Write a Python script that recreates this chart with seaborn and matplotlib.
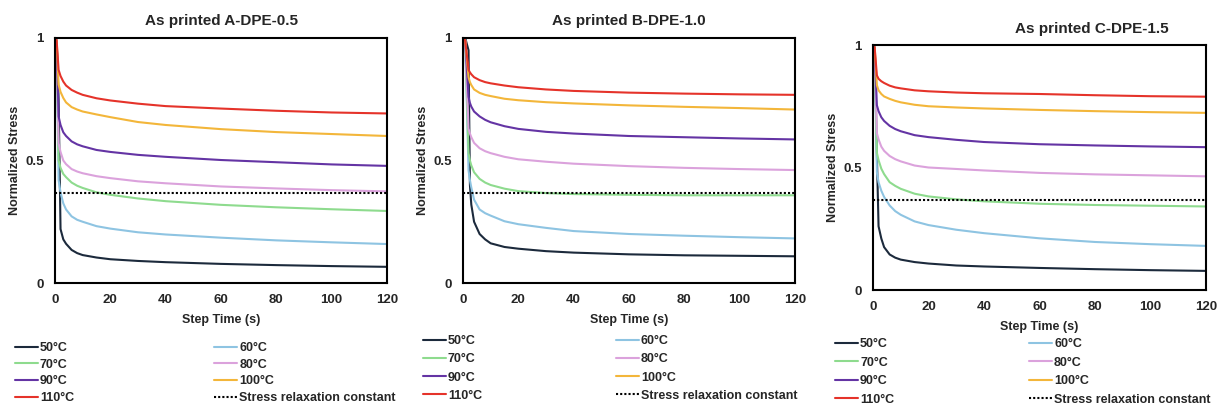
import matplotlib
matplotlib.use("Agg")
import matplotlib.pyplot as plt
import seaborn as sns
import pandas as pd
from matplotlib.lines import Line2D

# ---------------- data ----------------
temps = ["50°C", "60°C", "70°C", "80°C", "90°C", "100°C", "110°C"]
colors = ["#1c2a3c", "#8ec4e2", "#8edb8e", "#dba2dc", "#6434a4", "#f3b63a", "#e5332a"]
relax_const = 0.368
relax_label = "Stress relaxation constant"

titles = ["As printed A-DPE-0.5", "As printed B-DPE-1.0", "As printed C-DPE-1.5"]

# Panel A
time_a = [0, 0.6, 1.3, 2, 3, 4, 6, 8, 10, 15, 20, 30, 40, 60, 80, 100, 120]
a_50 = [1.0, 0.99, 0.75, 0.22, 0.178, 0.16, 0.135, 0.122, 0.114, 0.104, 0.097, 0.090, 0.085, 0.078, 0.073, 0.069, 0.066]
a_60 = [1.0, 0.99, 0.42, 0.37, 0.325, 0.30, 0.272, 0.258, 0.25, 0.232, 0.222, 0.207, 0.198, 0.185, 0.174, 0.166, 0.159]
a_70 = [1.0, 0.99, 0.50, 0.47, 0.445, 0.432, 0.41, 0.397, 0.388, 0.370, 0.360, 0.345, 0.334, 0.319, 0.309, 0.301, 0.294]
a_80 = [1.0, 0.99, 0.57, 0.535, 0.50, 0.485, 0.465, 0.455, 0.448, 0.436, 0.428, 0.415, 0.407, 0.394, 0.386, 0.379, 0.374]
a_90 = [1.0, 0.99, 0.68, 0.645, 0.615, 0.60, 0.578, 0.566, 0.558, 0.543, 0.535, 0.523, 0.515, 0.502, 0.493, 0.484, 0.478]
a_100 = [1.0, 0.99, 0.81, 0.78, 0.755, 0.737, 0.718, 0.708, 0.70, 0.688, 0.677, 0.657, 0.645, 0.628, 0.616, 0.608, 0.600]
a_110 = [1.0, 0.99, 0.87, 0.845, 0.822, 0.806, 0.788, 0.777, 0.768, 0.754, 0.745, 0.732, 0.722, 0.712, 0.703, 0.696, 0.692]

# Panel B
time_b = [0, 0.8, 2, 2.5, 3, 4, 6, 8, 10, 15, 20, 30, 40, 60, 80, 100, 120]
b_50 = [1.0, 1.0, 0.95, 0.40, 0.32, 0.25, 0.20, 0.178, 0.162, 0.147, 0.140, 0.130, 0.124, 0.117, 0.113, 0.111, 0.109]
b_60 = [1.0, 0.99, 0.46, 0.42, 0.39, 0.34, 0.30, 0.285, 0.275, 0.252, 0.240, 0.225, 0.212, 0.200, 0.193, 0.187, 0.182]
b_70 = [1.0, 0.99, 0.53, 0.50, 0.48, 0.452, 0.425, 0.41, 0.40, 0.385, 0.375, 0.367, 0.363, 0.360, 0.358, 0.358, 0.358]
b_80 = [1.0, 0.99, 0.63, 0.61, 0.595, 0.572, 0.55, 0.538, 0.53, 0.515, 0.505, 0.495, 0.487, 0.477, 0.470, 0.465, 0.461]
b_90 = [1.0, 0.99, 0.76, 0.735, 0.72, 0.70, 0.68, 0.666, 0.656, 0.640, 0.629, 0.617, 0.610, 0.600, 0.595, 0.590, 0.586]
b_100 = [1.0, 0.99, 0.84, 0.82, 0.808, 0.79, 0.776, 0.768, 0.763, 0.752, 0.746, 0.738, 0.733, 0.725, 0.719, 0.714, 0.708]
b_110 = [1.0, 0.99, 0.87, 0.86, 0.852, 0.84, 0.828, 0.82, 0.815, 0.806, 0.799, 0.790, 0.784, 0.777, 0.773, 0.770, 0.768]

# Panel C
time_c = [0, 0.6, 1.4, 2, 3, 4, 6, 8, 10, 15, 20, 30, 40, 60, 80, 100, 120]
c_50 = [1.0, 0.99, 0.55, 0.26, 0.21, 0.175, 0.145, 0.132, 0.124, 0.114, 0.108, 0.100, 0.096, 0.090, 0.085, 0.081, 0.078]
c_60 = [1.0, 0.99, 0.48, 0.44, 0.405, 0.38, 0.345, 0.322, 0.307, 0.280, 0.265, 0.246, 0.232, 0.211, 0.196, 0.187, 0.180]
c_70 = [1.0, 0.99, 0.56, 0.53, 0.495, 0.473, 0.44, 0.425, 0.413, 0.393, 0.382, 0.370, 0.362, 0.352, 0.347, 0.344, 0.341]
c_80 = [1.0, 0.99, 0.64, 0.615, 0.585, 0.568, 0.547, 0.534, 0.525, 0.508, 0.500, 0.494, 0.488, 0.478, 0.472, 0.468, 0.464]
c_90 = [1.0, 0.99, 0.754, 0.73, 0.705, 0.69, 0.67, 0.657, 0.648, 0.632, 0.624, 0.613, 0.604, 0.595, 0.590, 0.586, 0.583]
c_100 = [1.0, 0.99, 0.836, 0.815, 0.80, 0.79, 0.78, 0.772, 0.766, 0.756, 0.750, 0.745, 0.741, 0.735, 0.730, 0.726, 0.723]
c_110 = [1.0, 0.99, 0.876, 0.862, 0.852, 0.845, 0.834, 0.827, 0.823, 0.815, 0.811, 0.806, 0.803, 0.800, 0.795, 0.791, 0.789]

x_ticks = [0, 20, 40, 60, 80, 100, 120]
y_ticks = [0, 0.5, 1]
y_ticklabels = ["0", "0.5", "1"]

panels = [
    (time_a, [a_50, a_60, a_70, a_80, a_90, a_100, a_110]),
    (time_b, [b_50, b_60, b_70, b_80, b_90, b_100, b_110]),
    (time_c, [c_50, c_60, c_70, c_80, c_90, c_100, c_110]),
]

# ---------------- style ----------------
sns.set_style("white")
plt.rcParams["font.family"] = ["Liberation Sans", "DejaVu Sans"]
plt.rcParams["font.weight"] = "bold"

W, H = 1219, 411
fig = plt.figure(figsize=(W / 100, H / 100), dpi=100)

# axes boxes in pixels: left, top, right, bottom
boxes = [(55, 38, 387, 283), (463, 38, 795, 283), (873, 45, 1206, 290)]
title_x = [0.5, 0.5, 0.658]
legend_pos = [(15, 342, 11.2, 0.37), (423, 335, 10.7, 0.50), (835, 338, 10.8, 0.52)]

palette = dict(zip(temps, colors))

for i, ((tt, series), box) in enumerate(zip(panels, boxes)):
    l, t, r, b = box
    ax = fig.add_axes([l / W, (H - b) / H, (r - l) / W, (b - t) / H])
    rows = []
    for name, vals in zip(temps, series):
        for x, y in zip(tt, vals):
            rows.append({"time": x, "stress": y, "temp": name})
    df = pd.DataFrame(rows)
    sns.lineplot(data=df, x="time", y="stress", hue="temp", hue_order=temps,
                 palette=palette, linewidth=1.5, legend=False, ax=ax,
                 estimator=None, sort=False)
    ax.axhline(relax_const, color="black", linestyle=(0, (1, 1)), linewidth=1.5)
    ax.set_xlim(0, 120)
    ax.set_ylim(0, 1)
    ax.set_xticks(x_ticks)
    ax.set_xticklabels([str(v) for v in x_ticks])
    ax.set_yticks(y_ticks)
    ax.set_yticklabels(y_ticklabels)
    ax.tick_params(axis="x", length=0, labelsize=9.5, pad=8)
    ax.tick_params(axis="y", length=0, labelsize=9.5, pad=8)
    for lab in ax.get_xticklabels() + ax.get_yticklabels():
        lab.set_fontweight("bold")
    for sp in ax.spines.values():
        sp.set_visible(True)
        sp.set_color("black")
        sp.set_linewidth(1.5)
    ax.set_xlabel("Step Time (s)", fontsize=9, fontweight="bold", labelpad=6)
    ax.set_ylabel("Normalized Stress", fontsize=9, fontweight="bold", labelpad=3)
    ax.set_title(titles[i], fontsize=11, fontweight="bold", x=title_x[i], pad=9)

    # legend
    handles = [Line2D([], [], color=c, linewidth=1.5) for c in colors]
    handles.append(Line2D([], [], color="black", linestyle=(0, (1, 1)), linewidth=1.5))
    labels = temps + [relax_label]
    order = [0, 2, 4, 6, 1, 3, 5, 7]
    lx, ly, cs, ls = legend_pos[i]
    fig.legend([handles[k] for k in order], [labels[k] for k in order],
               loc="upper left", bbox_to_anchor=(lx / W, (H - ly) / H),
               ncol=2, frameon=False, handlelength=1.85, handletextpad=0.15,
               columnspacing=cs, labelspacing=ls, borderpad=0, borderaxespad=0,
               prop={"size": 9, "weight": "bold"})

fig.savefig("out.png", dpi=100)
